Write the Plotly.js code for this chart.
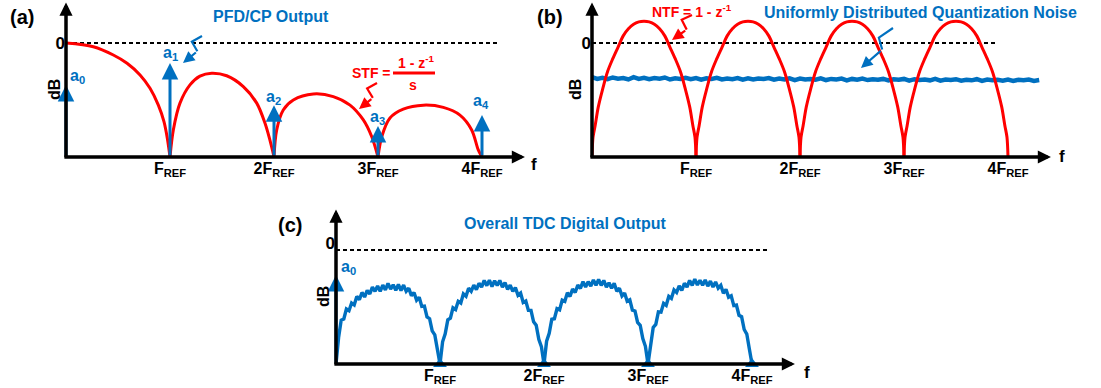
<!DOCTYPE html>
<html><head><meta charset="utf-8">
<script src="https://cdn.plot.ly/plotly-3.0.1.min.js"></script>
<style>html,body{margin:0;padding:0;background:#fff;} #chart{width:1101px;height:388px;}</style>
</head><body><div id="chart"></div>
<script>
// ================= DATA =================
const harmonicTicks = [1, 2, 3, 4];
const harmonicLabels = ['F<sub>REF</sub>', '2F<sub>REF</sub>', '3F<sub>REF</sub>', '4F<sub>REF</sub>'];
const zeroTick = [0];
const zeroLabel = ['0'];

// (a) PFD/CP output: STF lobes (freq in units of FREF, level in dB)
const stfLobe1Freq = [0, 0.263, 0.455, 0.587, 0.712, 0.808, 0.888, 0.942, 0.974, 1];
const stfLobe1Db   = [0, -1.3, -4.2, -7.1, -11.2, -15.9, -21.8, -27.6, -33.4, -40];
const stfLobe2Freq = [1, 1.032, 1.096, 1.192, 1.288, 1.401, 1.545, 1.705, 1.834, 1.913, 1.978, 2];
const stfLobe2Db   = [-40, -30.5, -21.1, -14.7, -11.6, -10.6, -11.5, -15.3, -21.1, -28.1, -36.5, -40];
const stfLobe3Freq = [2, 2.026, 2.089, 2.186, 2.378, 2.57, 2.731, 2.859, 2.94, 3];
const stfLobe3Db   = [-40, -30.5, -23.5, -20, -17.9, -18.8, -21.8, -27, -32.9, -40];
const stfLobe4Freq = [3, 3.036, 3.115, 3.243, 3.436, 3.628, 3.788, 3.901, 3.964, 4];
const stfLobe4Db   = [-40, -32.9, -26.3, -23.2, -21.8, -22.6, -25.3, -30.5, -37.5, -40];
// harmonic tones a0..a4
const toneFreq = [0, 1, 2, 3, 4];
const toneDb = [-14.7, -7.0, -21.8, -29.1, -25.3];
const toneLabels = ['a<sub>0</sub>', 'a<sub>1</sub>', 'a<sub>2</sub>', 'a<sub>3</sub>', 'a<sub>4</sub>'];

// (b) NTF = 1 - z^-1 arches (one period shape, repeated per FREF interval)
const ntfArchStart = [0, 1, 2, 3];
const ntfLocalFreq = [0, 0.01, 0.03, 0.06, 0.1, 0.15, 0.2, 0.25, 0.3, 0.35, 0.4, 0.45, 0.5, 0.55, 0.6, 0.65, 0.7, 0.75, 0.8, 0.85, 0.9, 0.94, 0.97, 0.99, 1];
const ntfLocalDb   = [-40, -33, -29, -22.5, -16.5, -10, -5.5, -1.5, 2.5, 5.0, 6.6, 7.4, 7.6, 7.4, 6.6, 5.0, 2.5, -1.5, -5.5, -10, -16.5, -22.5, -29, -33, -40];
// uniformly distributed quantization noise, sampled every 0.05 FREF
const qNoiseStep = 0.05;
const qNoiseDb = [-12.0,-12.6,-12.2,-12.7,-12.1,-12.5,-12.3,-12.8,-12.0,-12.6,
  -12.2,-12.7,-12.3,-12.5,-12.1,-12.8,-12.4,-12.6,-12.2,-12.7,
  -12.3,-12.9,-12.4,-12.6,-12.2,-12.8,-12.5,-12.7,-12.3,-12.9,
  -12.4,-12.8,-12.5,-12.6,-12.3,-12.9,-12.5,-12.8,-12.4,-13.0,
  -12.5,-12.8,-12.6,-12.9,-12.4,-13.0,-12.6,-12.8,-12.5,-13.1,
  -12.6,-12.9,-12.5,-13.0,-12.7,-12.9,-12.6,-13.1,-12.7,-12.9,
  -12.6,-13.2,-12.7,-13.0,-12.8,-13.1,-12.6,-13.2,-12.8,-13.0,
  -12.7,-13.2,-12.9,-13.1,-12.7,-13.3,-12.8,-13.1,-12.9,-13.2,
  -12.8,-13.3,-12.9,-13.1,-12.8,-13.3,-13.0];

// (c) overall TDC digital output: noisy arches
const tdcLocalFreq = [0,0.025,0.05,0.075,0.1,0.125,0.15,0.175,0.2,0.225,0.25,0.275,0.3,0.325,0.35,0.375,0.4,0.425,0.45,0.475,0.5,0.525,0.55,0.575,0.6,0.625,0.65,0.675,0.7,0.725,0.75,0.775,0.8,0.825,0.85,0.875,0.9,0.925,0.95,0.975,1];
const tdcArch1Db = [-40,-30.7,-24.6,-24.2,-20.7,-21.3,-18.6,-19.3,-16.3,-17.4,-14.9,-16.5,-14.2,-15.4,-13.0,-14.5,-12.6,-14.5,-12.3,-14.0,-11.7,-13.7,-12.2,-14.1,-12.1,-14.2,-12.3,-14.5,-13.4,-16.0,-14.9,-17.6,-16.6,-19.8,-19.7,-23.5,-24.1,-28.4,-29.8,-35.0,-40];
const tdcArch2Db = [-40,-32.2,-29.4,-24.5,-23.9,-20.3,-20.9,-18.0,-18.6,-15.4,-16.2,-13.4,-14.5,-12.3,-13.9,-11.7,-13.0,-10.7,-12.5,-10.6,-12.8,-10.8,-12.4,-10.7,-13.0,-11.4,-13.8,-12.3,-14.5,-13.2,-15.9,-15.1,-18.4,-17.9,-21.2,-21.2,-25.2,-26.4,-31.3,-33.9,-40];
const tdcArch3Db = [-40,-32.0,-29.2,-24.3,-24.1,-20.6,-21.0,-17.6,-18.0,-15.0,-16.3,-13.7,-14.9,-12.3,-13.5,-11.1,-13.0,-11.1,-12.7,-10.5,-12.4,-10.3,-12.4,-10.7,-13.0,-11.5,-13.4,-11.7,-14.5,-13.4,-16.1,-15.1,-18.0,-17.5,-21.1,-21.4,-25.4,-26.4,-31.1,-33.8,-40];
const tdcArch4Db = [-40,-33.5,-27.2,-26.1,-21.7,-21.8,-18.7,-19.4,-16.3,-17.0,-14.0,-14.9,-12.6,-14.2,-11.7,-13.0,-10.7,-12.4,-10.2,-12.3,-10.6,-12.4,-10.5,-12.7,-10.9,-13.0,-11.2,-13.4,-12.4,-15.2,-13.8,-16.6,-16.1,-19.5,-19.3,-22.9,-23.4,-27.9,-29.5,-34.8,-40];
const tdcArchStart = [0, 1, 2, 3];
const tdcNullFreq = [1, 2, 3, 4];
const tdcNullDb = [-40, -40, -40, -40];
const tdcA0Db = -8.8;

// ================= GEOMETRY / STYLE =================
const W = 1101, H = 388;
const FPX = 104, DBPX = 2.85, DBMIN = -40, DBMAX = 14.2, FMAX = 4.413;
const RED = '#FF0000', BLUE = '#0070C0', BLACK = '#000000';
const FONT = 'Liberation Sans, Arial, sans-serif';
const PX = p => p / W, PY = p => 1 - p / H;
const xdom = x0 => [x0 / W, (x0 + FMAX * FPX) / W];
const ydom = z => [1 - (z - DBMIN * DBPX) / H, 1 - (z - DBMAX * DBPX) / H];

function xAxis(x0, anchor) {
  return {domain: xdom(x0), range: [0, FMAX], anchor: anchor, showgrid: false, zeroline: false,
    showline: false, ticks: '', tickvals: harmonicTicks, ticktext: harmonicLabels,
    tickfont: {family: FONT, size: 16, color: BLACK, weight: 'bold'}, fixedrange: true};
}
function yAxis(z, anchor) {
  return {domain: ydom(z), range: [DBMIN, DBMAX], anchor: anchor, showgrid: false, zeroline: false,
    showline: false, ticks: '', tickvals: zeroTick, ticktext: zeroLabel,
    tickfont: {family: FONT, size: 17, color: BLACK, weight: 'bold'}, fixedrange: true};
}

const traces = [];
const redLine = {color: RED, width: 3, shape: 'spline', smoothing: 0.9};
[[stfLobe1Freq, stfLobe1Db], [stfLobe2Freq, stfLobe2Db], [stfLobe3Freq, stfLobe3Db], [stfLobe4Freq, stfLobe4Db]].forEach(l => {
  traces.push({x: l[0], y: l[1], xaxis: 'x', yaxis: 'y', mode: 'lines', line: redLine, hoverinfo: 'skip'});
});
traces.push({x: qNoiseDb.map((v, i) => i * qNoiseStep), y: qNoiseDb, xaxis: 'x2', yaxis: 'y2', mode: 'lines',
  line: {color: BLUE, width: 4.5}, hoverinfo: 'skip'});
ntfArchStart.forEach(k => {
  traces.push({x: ntfLocalFreq.map(u => k + u), y: ntfLocalDb, xaxis: 'x2', yaxis: 'y2', mode: 'lines', line: redLine, hoverinfo: 'skip'});
});
[tdcArch1Db, tdcArch2Db, tdcArch3Db, tdcArch4Db].forEach((arr, i) => {
  traces.push({x: tdcLocalFreq.map(u => tdcArchStart[i] + u), y: arr, xaxis: 'x3', yaxis: 'y3', mode: 'lines',
    line: {color: BLUE, width: 3.4}, hoverinfo: 'skip'});
});
traces.push({x: tdcNullFreq, y: tdcNullDb, xaxis: 'x3', yaxis: 'y3', mode: 'markers', cliponaxis: false,
  marker: {symbol: 'triangle-up', size: 12, color: BLUE}, hoverinfo: 'skip'});

const shapes = [];
const ann = [];
function text(t, px, py, size, color, extra) {
  ann.push(Object.assign({text: '<b>' + t + '</b>', xref: 'paper', yref: 'paper', x: PX(px), y: PY(py),
    xanchor: 'center', yanchor: 'middle', showarrow: false, font: {family: FONT, size: size, color: color}}, extra || {}));
}
function axisArrows(xr, yr) {
  ann.push({text: '', xref: xr, yref: yr, axref: xr, ayref: yr, x: FMAX, y: DBMIN, ax: -0.03, ay: DBMIN,
    showarrow: true, arrowhead: 2, arrowsize: 0.75, arrowwidth: 3.5, arrowcolor: BLACK});
  ann.push({text: '', xref: xr, yref: yr, axref: xr, ayref: yr, x: 0, y: DBMAX, ax: 0, ay: DBMIN - 0.6,
    showarrow: true, arrowhead: 2, arrowsize: 0.75, arrowwidth: 3.5, arrowcolor: BLACK});
}
function dashed(xr, yr, xEnd) {
  shapes.push({type: 'line', xref: xr, yref: yr, x0: 0, x1: xEnd, y0: 0, y1: 0, layer: 'below',
    line: {color: BLACK, width: 2, dash: '4px,3px'}});
}
function tone(xr, yr, f, db) {
  ann.push({text: '', xref: xr, yref: yr, axref: xr, ayref: yr, x: f, y: db, ax: f, ay: DBMIN,
    showarrow: true, arrowhead: 2, arrowsize: 1.1, arrowwidth: 3, arrowcolor: BLUE});
}
function squiggle(tail, head, color) {
  const dx = head[0] - tail[0], dy = head[1] - tail[1], L = Math.hypot(dx, dy);
  const nx = -dy / L, ny = dx / L;
  const p = t => [tail[0] + dx * t, tail[1] + dy * t];
  const a = p(0.32), b = p(0.46);
  const pts = [tail, [a[0] + nx * 5, a[1] + ny * 5], [b[0] - nx * 5, b[1] - ny * 5]];
  shapes.push({type: 'path', xref: 'paper', yref: 'paper', layer: 'above',
    path: 'M' + pts.map(q => PX(q[0]).toFixed(5) + ',' + PY(q[1]).toFixed(5)).join(' L'),
    line: {color: color, width: 2.2}});
  const last = pts[2];
  ann.push({text: '', xref: 'paper', yref: 'paper', x: PX(head[0]), y: PY(head[1]),
    ax: last[0] - head[0], ay: last[1] - head[1], showarrow: true, arrowhead: 2, arrowsize: 1.05,
    arrowwidth: 2.2, arrowcolor: color});
}

// ----- panel (a) -----
dashed('x', 'y', 4.15);
toneFreq.forEach((f, i) => tone('x', 'y', f, toneDb[i]));
axisArrows('x', 'y');
text('(a)', 22, 17, 20, BLACK);
text('PFD/CP Output', 271, 17, 16, BLUE);
text('dB', 54, 90, 16, BLACK, {textangle: -90});
text('f', 534, 164, 17, BLACK);
const toneLabelPos = [[77, 77], [170, 54], [273, 97], [377, 117], [481, 102]];
toneLabels.forEach((t, i) => text(t, toneLabelPos[i][0], toneLabelPos[i][1], 16, BLUE));
text('STF =', 371, 73, 14, RED);
text('1 - z<sup>-1</sup>', 416, 62, 14, RED);
text('s', 413, 85, 14, RED);
shapes.push({type: 'line', xref: 'paper', yref: 'paper', x0: PX(393), x1: PX(435), y0: PY(73), y1: PY(73), line: {color: RED, width: 3}});
squiggle([377, 83], [359, 109], RED);
squiggle([202, 36], [183, 63], BLUE);

// ----- panel (b) -----
dashed('x2', 'y2', 3.875);
axisArrows('x2', 'y2');
text('(b)', 550, 17, 20, BLACK);
text('NTF = 1 - z<sup>-1</sup>', 692, 11, 14, RED);
text('Uniformly Distributed Quantization Noise', 920, 12, 16, BLUE);
text('dB', 575, 90, 16, BLACK, {textangle: -90});
text('f', 1062, 156, 17, BLACK);
squiggle([692, 15], [672, 40], RED);
squiggle([893, 28], [861, 68], BLUE);

// ----- panel (c) -----
dashed('x3', 'y3', 4.15);
tone('x3', 'y3', 0, tdcA0Db);
axisArrows('x3', 'y3');
text('(c)', 290, 225, 20, BLACK);
text('Overall TDC Digital Output', 565, 224, 16, BLUE);
text('dB', 323, 297, 16, BLACK, {textangle: -90});
text('f', 807, 372, 17, BLACK);
text('a<sub>0</sub>', 348, 267, 16, BLUE);

const layout = {
  width: W, height: H, margin: {l: 0, r: 0, t: 0, b: 0}, showlegend: false,
  paper_bgcolor: '#ffffff', plot_bgcolor: 'rgba(0,0,0,0)',
  font: {family: FONT, color: BLACK},
  xaxis: xAxis(66, 'y'), yaxis: yAxis(43, 'x'),
  xaxis2: xAxis(592, 'y2'), yaxis2: yAxis(43, 'x2'),
  xaxis3: xAxis(336, 'y3'), yaxis3: Object.assign(yAxis(250, 'x3'), {ticklabelshift: -7}),
  shapes: shapes, annotations: ann
};
Plotly.newPlot('chart', traces, layout, {staticPlot: true, displayModeBar: false});
</script>
</body></html>
